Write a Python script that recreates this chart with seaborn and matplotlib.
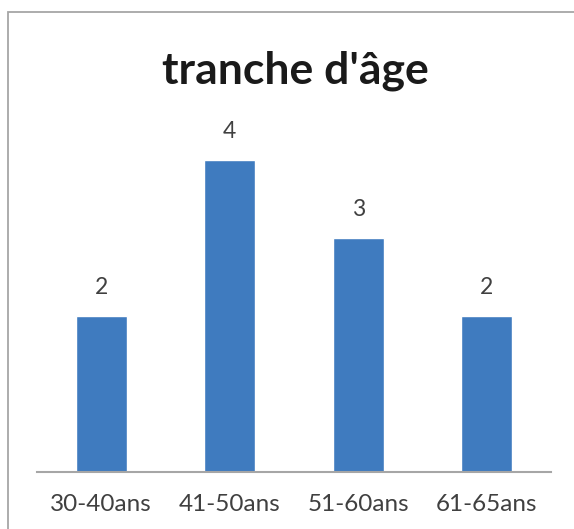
import matplotlib
matplotlib.use("Agg")
import matplotlib.pyplot as plt
import matplotlib.patches as mpatches
import seaborn as sns
import pandas as pd

# données
categories = ["30-40ans", "41-50ans", "51-60ans", "61-65ans"]
effectifs = [2, 4, 3, 2]
titre = "tranche d'âge"

sns.set_style("white")
plt.rcParams['font.family'] = ['Lato', 'DejaVu Sans']

df = pd.DataFrame({"tranche": categories, "n": effectifs})

fig = plt.figure(figsize=(5.74, 5.29), dpi=100)
ax = fig.add_axes([0.0645, 0.108, 0.8955, 0.723])

sns.barplot(data=df, x="tranche", y="n", color="#3F7BBF", saturation=1,
            width=0.4, ax=ax)
ax.bar_label(ax.containers[0], padding=13, fontsize=16.5, color="#404040")

ax.set_xlim(-0.5, 3.5)
ax.set_ylim(0, 4.9)
ax.set_xlabel("")
ax.set_ylabel("")
ax.set_yticks([])
for s in ["top", "right", "left"]:
    ax.spines[s].set_visible(False)
ax.spines["bottom"].set_color("#A6A6A6")
ax.spines["bottom"].set_linewidth(1.5)
ax.tick_params(axis="x", length=0, pad=16, labelsize=17.5, labelcolor="#404040")

fig.text(0.515, 0.866, titre, ha="center", va="center",
         fontsize=32, fontweight="bold", color="#1A1A1A")

# cadre du graphique
fig.patches.append(mpatches.Rectangle((7.5 / 574, -0.1), 1.2, 1.1 - 11.5 / 529,
                                      transform=fig.transFigure, fill=False,
                                      edgecolor="#A6A6A6", linewidth=1.3))

fig.savefig("out.png", dpi=100)
plt.close()
